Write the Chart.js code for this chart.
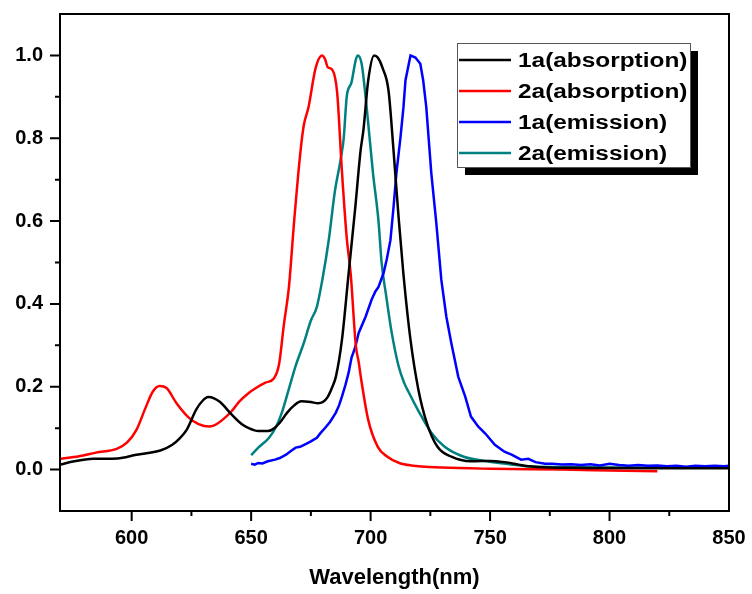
<!DOCTYPE html>
<html>
<head>
<meta charset="utf-8">
<script src="https://cdn.jsdelivr.net/npm/chart.js@4"></script>
<style>
  html, body { margin: 0; padding: 0; background: #fff; }
  #wrap { width: 752px; height: 594px; }
</style>
</head>
<body>
<div id="wrap"><canvas id="spectra"></canvas></div>
<script>
// 1a absorption (black)
const abs1aNm  = [570, 576, 584, 594, 602, 612, 617, 620, 623, 627, 629.5, 632, 634.5, 637, 642, 646, 649, 653, 657, 659, 662, 665, 668, 671, 675, 678, 680, 682, 684, 685.5, 688, 690.8, 693.6, 695.8, 697, 699, 701.5, 703, 705, 707.5, 709.6, 711.7, 713.7, 716.7, 720, 723.5, 728, 733.8, 742, 750, 756, 762, 766, 775, 790, 820, 850];
const abs1aVal = [0.012, 0.02, 0.026, 0.027, 0.036, 0.046, 0.06, 0.075, 0.096, 0.145, 0.165, 0.175, 0.172, 0.163, 0.132, 0.11, 0.1, 0.093, 0.093, 0.097, 0.113, 0.137, 0.155, 0.165, 0.163, 0.16, 0.163, 0.175, 0.2, 0.225, 0.313, 0.474, 0.634, 0.77, 0.82, 0.94, 1.0, 0.995, 0.97, 0.915, 0.77, 0.61, 0.474, 0.313, 0.193, 0.113, 0.055, 0.031, 0.02, 0.021, 0.018, 0.012, 0.008, 0.005, 0.004, 0.003, 0.003];

// 2a absorption (red)
const abs2aNm  = [570, 578, 585, 593.7, 598, 602, 606, 608.8, 611.7, 614.6, 618.7, 624, 628, 632.5, 635, 638, 642, 645, 649, 652, 656, 659.5, 661.7, 663.7, 665.8, 668, 670.5, 672, 674, 677, 679.7, 681, 682, 684, 686, 688, 690, 691.7, 693.8, 695, 696, 699, 703, 707, 712, 717, 730, 750, 780, 800, 820];
const abs2aVal = [0.026, 0.032, 0.041, 0.05, 0.065, 0.096, 0.152, 0.188, 0.202, 0.197, 0.161, 0.125, 0.11, 0.104, 0.108, 0.12, 0.142, 0.164, 0.185, 0.197, 0.21, 0.22, 0.255, 0.35, 0.44, 0.6, 0.76, 0.83, 0.875, 0.97, 1.0, 0.99, 0.972, 0.965, 0.91, 0.72, 0.56, 0.47, 0.3, 0.26, 0.22, 0.12, 0.055, 0.031, 0.016, 0.01, 0.005, 0.002, 0.0, -0.002, -0.004];

// 1a emission (blue)
const em1aNm  = [650, 651.5, 653, 654.7, 657, 660, 662, 664.6, 666.5, 668.6, 670.5, 673, 675, 677.5, 679, 681, 683, 685.4, 686.8, 688, 689.5, 690.8, 692, 693.6, 695, 697.9, 700.4, 702, 703.3, 705.4, 706.7, 708.3, 709.6, 710.8, 712.5, 713.75, 714.6, 716.7, 718.75, 720.8, 722, 723.3, 725.4, 727.5, 729.6, 731.7, 733.75, 736.7, 739.6, 742, 745, 748, 752, 756, 759, 763, 766, 769, 773, 776, 780, 784, 788, 792, 796, 800, 804, 808, 812, 816, 820, 824, 828, 832, 836, 840, 844, 848, 850];
const em1aVal = [0.014, 0.012, 0.016, 0.015, 0.02, 0.024, 0.028, 0.036, 0.044, 0.053, 0.055, 0.062, 0.068, 0.077, 0.088, 0.101, 0.115, 0.137, 0.155, 0.176, 0.205, 0.234, 0.27, 0.296, 0.33, 0.369, 0.41, 0.43, 0.441, 0.474, 0.506, 0.554, 0.634, 0.716, 0.802, 0.875, 0.94, 1.0, 0.995, 0.98, 0.94, 0.875, 0.716, 0.595, 0.458, 0.369, 0.306, 0.224, 0.176, 0.128, 0.104, 0.087, 0.06, 0.043, 0.036, 0.024, 0.026, 0.018, 0.014, 0.014, 0.012, 0.013, 0.011, 0.013, 0.01, 0.014, 0.011, 0.009, 0.011, 0.009, 0.01, 0.008, 0.009, 0.007, 0.009, 0.008, 0.009, 0.008, 0.009];

// 2a emission (teal)
const em2aNm  = [650, 653, 657.5, 660.5, 663, 665.8, 668.6, 672, 675, 677.5, 680, 682.5, 685, 687.5, 688.75, 690, 692, 693.75, 694.6, 696.25, 697.9, 699, 701, 703.3, 704.6, 706.5, 708.7, 711.7, 714, 716, 720, 725.4, 731, 739, 750, 758, 766, 780, 800, 850];
const em2aVal = [0.035, 0.053, 0.077, 0.104, 0.14, 0.195, 0.25, 0.305, 0.36, 0.393, 0.465, 0.555, 0.67, 0.75, 0.8, 0.9, 0.935, 0.988, 1.0, 0.98, 0.9, 0.836, 0.716, 0.6, 0.5, 0.42, 0.335, 0.25, 0.21, 0.186, 0.142, 0.089, 0.055, 0.031, 0.019, 0.013, 0.008, 0.006, 0.005, 0.005];

const seriesNames  = ['1a(absorption)', '2a(absorption)', '1a(emission)', '2a(emission)'];
const seriesColors = ['#000000', '#ff0000', '#0000ff', '#008080'];

const xTicksMin = 570, xTicksMax = 850;
const yTicksMin = -0.1, yTicksMax = 1.1;

function toPoints(xs, ys) {
    return xs.map(function (x, i) { return { x: x, y: ys[i] }; });
}

const FONT = '"Liberation Sans", Arial, Helvetica, sans-serif';

// frame + tick marks (major long, minor short), drawn on the chart's own scales
const framePlugin = {
    id: 'frame',
    afterDraw: function (chart) {
        const c = chart.ctx, a = chart.chartArea;
        const xs = chart.scales.x, ys = chart.scales.y;
        c.save();
        c.strokeStyle = '#000';
        c.lineWidth = 2;
        c.strokeRect(a.left, a.top, a.right - a.left, a.bottom - a.top);
        c.beginPath();
        xs.ticks.forEach(function (t) {
            const v = t.value;
            if (v <= xTicksMin || v >= xTicksMax) return;
            const px = xs.getPixelForValue(v);
            const len = (v % 50 === 0) ? 10 : 5;
            c.moveTo(px, a.bottom);
            c.lineTo(px, a.bottom + len);
        });
        ys.ticks.forEach(function (t) {
            const k = Math.round(t.value * 10);
            if (k <= -1 || k >= 11) return;
            const py = ys.getPixelForValue(t.value);
            const len = (k % 2 === 0) ? 10 : 5;
            c.moveTo(a.left, py);
            c.lineTo(a.left - len, py);
        });
        c.stroke();
        c.restore();
    }
};

// boxed legend with a drop shadow, top right
const legendPlugin = {
    id: 'boxLegend',
    afterDraw: function (chart) {
        const c = chart.ctx;
        const bx = 457, by = 43, bw = 233, bh = 124;
        c.save();
        c.fillStyle = '#000';
        c.fillRect(bx + 8, by + 8, bw, bh);
        c.fillStyle = '#fff';
        c.fillRect(bx, by, bw, bh);
        c.strokeStyle = '#555';
        c.lineWidth = 1;
        c.strokeRect(bx + 0.5, by + 0.5, bw, bh);
        chart.data.datasets.forEach(function (ds, i) {
            const rowY = 60 + i * 31;
            c.strokeStyle = ds.borderColor;
            c.lineWidth = 2.5;
            c.beginPath();
            c.moveTo(459, rowY);
            c.lineTo(511, rowY);
            c.stroke();
            c.save();
            c.translate(518, rowY + 7);
            c.scale(1.22, 1);
            c.fillStyle = '#000';
            c.font = 'bold 20px ' + FONT;
            c.textBaseline = 'alphabetic';
            c.fillText(ds.label, 0, 0);
            c.restore();
        });
        c.restore();
    }
};

const datasets = [
    toPoints(abs1aNm, abs1aVal),
    toPoints(abs2aNm, abs2aVal),
    toPoints(em1aNm, em1aVal),
    toPoints(em2aNm, em2aVal)
].map(function (pts, i) {
    return {
        label: seriesNames[i],
        data: pts,
        borderColor: seriesColors[i],
        backgroundColor: seriesColors[i],
        borderWidth: 2.5,
        pointRadius: 0,
        fill: false,
        cubicInterpolationMode: i === 2 ? 'default' : 'monotone',
        tension: i === 2 ? 0 : 0.4
    };
});

new Chart(document.getElementById('spectra'), {
    type: 'line',
    data: { datasets: datasets },
    plugins: [framePlugin, legendPlugin],
    options: {
        responsive: true,
        maintainAspectRatio: false,
        animation: false,
        layout: { padding: { top: 14, right: 23, left: 0, bottom: 0 } },
        plugins: {
            legend: { display: false },
            tooltip: { enabled: false }
        },
        scales: {
            x: {
                type: 'linear',
                min: xTicksMin,
                max: xTicksMax,
                afterFit: function (s) { s.height = 83; s.paddingLeft = 0; s.paddingRight = 0; },
                grid: { display: true, drawOnChartArea: false, drawTicks: true, tickLength: 10, tickColor: 'rgba(0,0,0,0)' },
                border: { display: false },
                ticks: {
                    stepSize: 25,
                    autoSkip: false,
                    maxRotation: 0,
                    padding: 5,
                    color: '#000',
                    font: { family: FONT, size: 20, weight: 'bold' },
                    callback: function (v) { return v % 50 === 0 ? String(v) : ''; }
                },
                title: {
                    display: true,
                    text: 'Wavelength(nm)',
                    color: '#000',
                    font: { family: FONT, size: 22, weight: 'bold' },
                    padding: { top: 0, bottom: 3 }
                }
            },
            y: {
                min: yTicksMin,
                max: yTicksMax,
                afterFit: function (s) { s.width = 60; s.paddingTop = 0; s.paddingBottom = 0; },
                grid: { display: true, drawOnChartArea: false, drawTicks: true, tickLength: 10, tickColor: 'rgba(0,0,0,0)' },
                border: { display: false },
                ticks: {
                    stepSize: 0.1,
                    autoSkip: false,
                    padding: 7,
                    color: '#000',
                    font: { family: FONT, size: 20, weight: 'bold' },
                    callback: function (v) {
                        const k = Math.round(v * 10);
                        return (k % 2 === 0 && k >= 0 && k <= 10) ? (k / 10).toFixed(1) : '';
                    }
                }
            }
        }
    }
});
</script>
</body>
</html>
